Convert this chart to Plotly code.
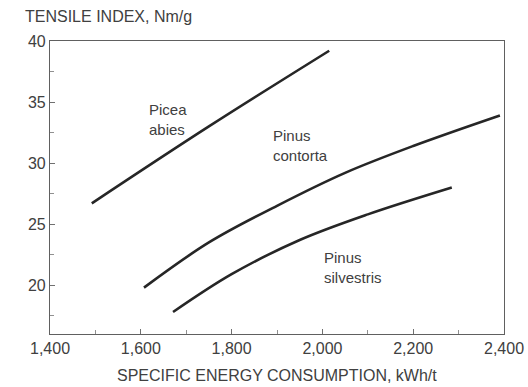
import plotly.graph_objects as go

picea_x = [1492, 1750, 2015]
picea_y = [26.7, 33.0, 39.2]

contorta_x = [1607, 1750, 1900, 2050, 2200, 2391]
contorta_y = [19.8, 23.5, 26.5, 29.2, 31.4, 33.9]

silvestris_x = [1671, 1800, 1950, 2100, 2285]
silvestris_y = [17.8, 20.9, 23.7, 25.8, 28.0]

labels = [
    ("Picea<br>abies", 1613, 33.6),
    ("Pinus<br>contorta", 1887, 31.4),
    ("Pinus<br>silvestris", 2000, 21.45),
]

line_col = "#262626"
text_col = "#404040"
font_fam = "Liberation Sans, Arial, sans-serif"

fig = go.Figure()
for xs, ys in [(picea_x, picea_y), (contorta_x, contorta_y), (silvestris_x, silvestris_y)]:
    fig.add_trace(go.Scatter(x=xs, y=ys, mode="lines",
                             line=dict(color=line_col, width=2.6, shape="spline", smoothing=1.0),
                             showlegend=False, hoverinfo="skip"))

for txt, x, y in labels:
    fig.add_annotation(x=x, y=y, text=txt, showarrow=False, xanchor="left", yanchor="middle",
                       align="left", font=dict(size=15, color=text_col, family=font_fam))

fig.add_annotation(xref="paper", yref="paper", x=-0.06, y=1.082, text="TENSILE INDEX, Nm/g",
                   showarrow=False, xanchor="left", yanchor="middle",
                   font=dict(size=16, color=text_col, family=font_fam))

fig.add_annotation(xref="paper", yref="paper", x=0.5, y=-0.143,
                   text="SPECIFIC ENERGY CONSUMPTION, kWh/t",
                   showarrow=False, xanchor="center", yanchor="middle",
                   font=dict(size=16, color=text_col, family=font_fam))

fig.update_layout(
    width=528, height=387,
    margin=dict(l=50, r=24, t=41, b=53, autoexpand=False),
    paper_bgcolor="white", plot_bgcolor="white",
    font=dict(family=font_fam, size=16, color=text_col),
    xaxis=dict(range=[1400, 2400], tick0=1400, dtick=200, tickformat=",d",
               showgrid=False, zeroline=False, showline=True, mirror=True,
               linecolor="#606060", linewidth=1.2,
               ticks="inside", ticklen=5, tickcolor="#707070",
               minor=dict(dtick=100, ticks="inside", ticklen=4, tickcolor="#909090"),
               automargin=False),
    yaxis=dict(range=[16, 40], tick0=0, dtick=5,
               showgrid=False, zeroline=False, showline=True, mirror=True,
               linecolor="#606060", linewidth=1.2,
               ticks="inside", ticklen=5, tickcolor="#707070",
               minor=dict(dtick=2.5, ticks="inside", ticklen=4, tickcolor="#909090"),
               automargin=False),
)

fig.write_html("out.html")
